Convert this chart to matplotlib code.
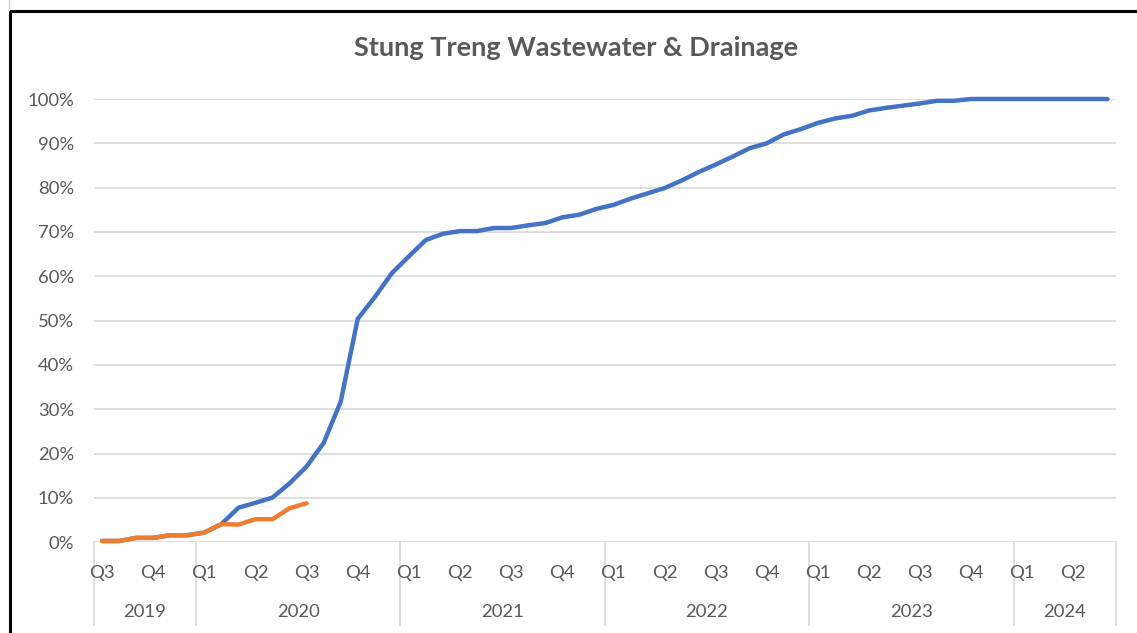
import numpy as np
import matplotlib
matplotlib.use("Agg")
import matplotlib.pyplot as plt
from matplotlib.lines import Line2D
import matplotlib.transforms as mtransforms

# monthly progress, Jul 2019 .. Jun 2024 (percent)
blue = [0.3, 0.3, 1.0, 1.0, 1.6, 1.6, 2.2, 4.1, 7.8, 8.9,
        10.1, 13.3, 17.1, 22.4, 31.7, 50.4, 55.3, 60.7, 64.5, 68.2,
        69.6, 70.2, 70.2, 70.9, 70.9, 71.5, 72.0, 73.3, 73.9, 75.2,
        76.1, 77.5, 78.7, 79.9, 81.6, 83.5, 85.2, 87.0, 88.9, 90.0,
        92.0, 93.2, 94.6, 95.6, 96.2, 97.4, 98.0, 98.5, 99.0, 99.6,
        99.6, 100, 100, 100, 100, 100, 100, 100, 100, 100]
orange = [0.3, 0.3, 1.0, 1.0, 1.6, 1.6, 2.2, 4.1, 4.0, 5.2, 5.2, 7.7, 8.8]

quarters = ["Q3", "Q4",
            "Q1", "Q2", "Q3", "Q4",
            "Q1", "Q2", "Q3", "Q4",
            "Q1", "Q2", "Q3", "Q4",
            "Q1", "Q2", "Q3", "Q4",
            "Q1", "Q2"]
years = ["2019", "2020", "2021", "2022", "2023", "2024"]
months_per_year = [6, 12, 12, 12, 12, 6]

title = "Stung Treng Wastewater & Drainage"

W, H = 1137, 633
txt = "#595959"
grid_c = "#D9D9D9"
font = "Lato"
fs = 13.3

fig = plt.figure(figsize=(W / 100, H / 100), dpi=100)
ax = fig.add_axes([93.6 / W, (H - 542.3) / H, (1116 - 93.6) / W, (542.3 - 99) / H])

x_b = np.arange(len(blue)) + 0.5
x_o = np.arange(len(orange)) + 0.5
ax.plot(x_b, np.array(blue) / 100, color="#4472C4", lw=3.2,
        solid_capstyle="round", solid_joinstyle="round", clip_on=False, zorder=3)
ax.plot(x_o, np.array(orange) / 100, color="#ED7D31", lw=3.2,
        solid_capstyle="round", solid_joinstyle="round", clip_on=False, zorder=4)

ax.set_xlim(0, len(blue))
ax.set_ylim(0, 1)
yt = np.arange(0, 1.01, 0.1)
ax.set_yticks(yt)
ax.set_yticklabels([f"{int(round(v * 100))}%" for v in yt], color=txt,
                   fontsize=fs, family=font)
ax.tick_params(axis="y", length=0, pad=14)
ax.set_xticks([])
for s in ax.spines.values():
    s.set_visible(False)
for v in yt:
    ax.axhline(v, color=grid_c, lw=1.2, zorder=1)

trans = mtransforms.blended_transform_factory(ax.transData, ax.transAxes)
px = 1 / (542.3 - 99)

# quarter labels at first month of each quarter
for k, q in enumerate(quarters):
    ax.text(k * 3 + 0.5, -30.7 * px, q, transform=trans, ha="center",
            va="center", color=txt, fontsize=fs, family=font)

# year groups and separators
edges = np.concatenate([[0], np.cumsum(months_per_year)])
for k, yr in enumerate(years):
    ax.text((edges[k] + edges[k + 1]) / 2, -69.7 * px, yr, transform=trans,
            ha="center", va="center", color=txt, fontsize=fs, family=font)
for e in edges:
    ax.add_line(Line2D([e, e], [0, -82.7 * px], transform=trans, color=grid_c,
                       lw=1.2, clip_on=False))

fig.text(576 / W, (H - 48) / H, title, ha="center", va="center", color=txt,
         fontsize=19.5, fontweight="bold", family=font)

# chart border (cropped on right and bottom)
fig.add_artist(Line2D([10 / W, 1.0], [(H - 11) / H] * 2, color="black", lw=2.2,
                      transform=fig.transFigure))
fig.add_artist(Line2D([10 / W] * 2, [0, (H - 11) / H], color="black", lw=2.2,
                      transform=fig.transFigure))
fig.add_artist(Line2D([9 / W] * 2, [(H - 10) / H, 1.0], color="#D0D0D0", lw=1,
                      transform=fig.transFigure))

fig.savefig("out.png", dpi=100)
